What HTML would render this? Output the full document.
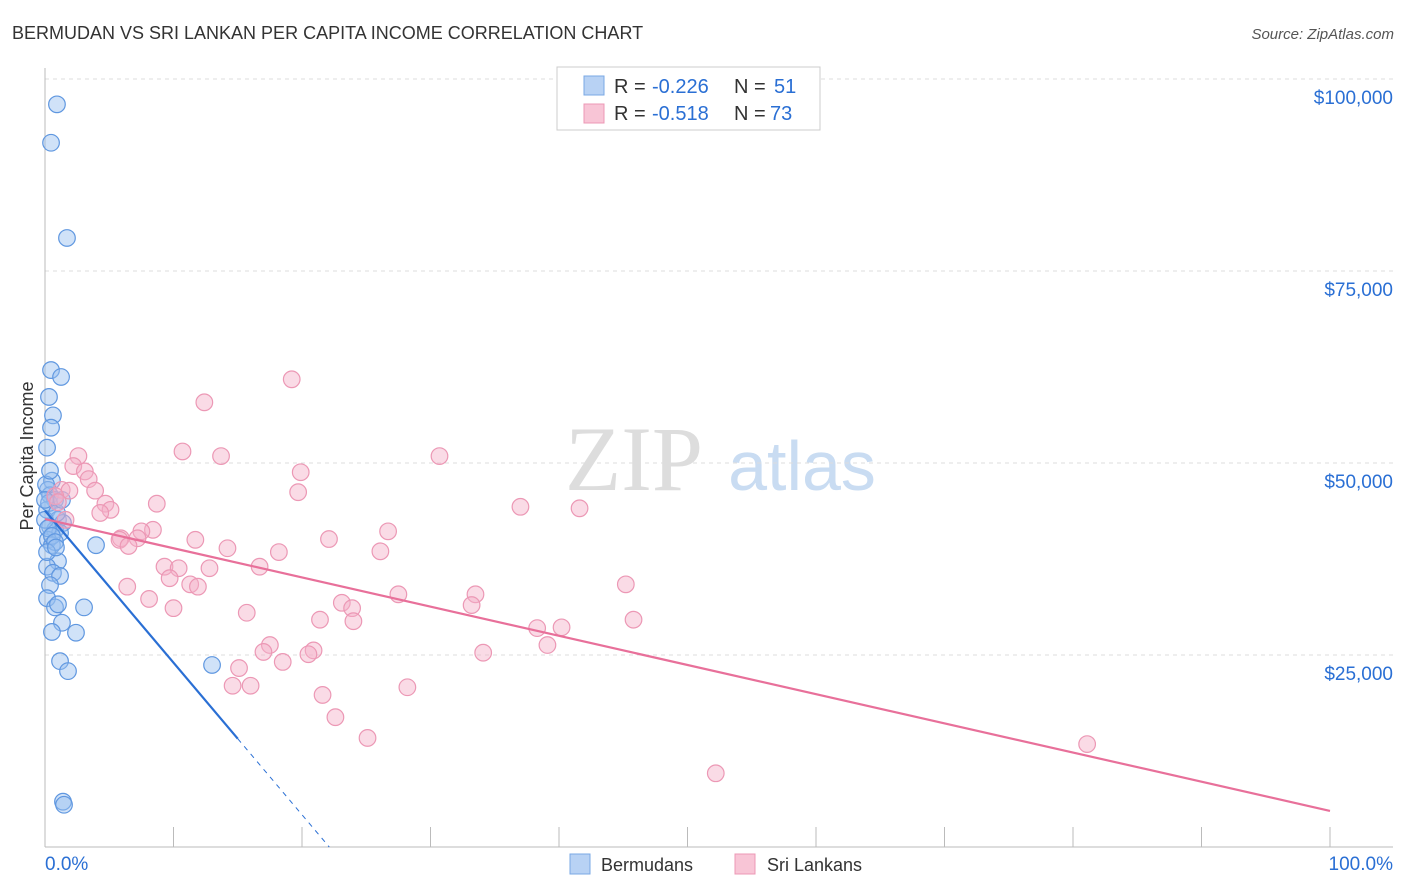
<!DOCTYPE html>
<html><head><meta charset="utf-8"><style>
body{margin:0;background:#fff;font-family:"Liberation Sans",sans-serif}
svg{display:block}
</style></head><body>
<svg id="c" width="1406" height="892" xmlns="http://www.w3.org/2000/svg">
<text x="12" y="39" font-size="18" fill="#333">BERMUDAN VS SRI LANKAN PER CAPITA INCOME CORRELATION CHART</text>
<text x="1394" y="39" font-size="15" fill="#555" text-anchor="end" font-style="italic">Source: ZipAtlas.com</text>
<text x="33" y="456" font-size="18" fill="#333" text-anchor="middle" transform="rotate(-90 33 456)">Per Capita Income</text>
<g><text x="634" y="490" font-size="92" fill="#ddd" text-anchor="middle" font-family="Liberation Serif,serif">ZIP</text><text x="802" y="490" font-size="70" fill="#c9dcf2" text-anchor="middle">atlas</text></g>
<g id="grid"></g><g id="marks"></g>
<g>
<rect x="557" y="67" width="263" height="63" fill="#fff" stroke="#ccc"/>
<rect x="584" y="76" width="20" height="19" fill="#b8d2f4" stroke="#7aa8e4"/>
<rect x="584" y="104" width="20" height="19" fill="#f8c5d6" stroke="#ec98b5"/>
<text x="614" y="93" font-size="20" fill="#333">R =</text><text x="652" y="93" font-size="20" fill="#2a6fd4">-0.226</text><text x="734" y="93" font-size="20" fill="#333">N =</text><text x="774" y="93" font-size="20" fill="#2a6fd4">51</text>
<text x="614" y="120" font-size="20" fill="#333">R =</text><text x="652" y="120" font-size="20" fill="#2a6fd4">-0.518</text><text x="734" y="120" font-size="20" fill="#333">N =</text><text x="770" y="120" font-size="20" fill="#2a6fd4">73</text>
</g>
<g>
<rect x="570" y="854" width="20" height="20" fill="#b8d2f4" stroke="#7aa8e4"/><text x="601" y="871" font-size="18" fill="#333">Bermudans</text>
<rect x="735" y="854" width="20" height="20" fill="#f8c5d6" stroke="#ec98b5"/><text x="767" y="871" font-size="18" fill="#333">Sri Lankans</text>
</g>
</svg>
<script>
const yTicks=[25000,50000,75000,100000];
const yTickLabels=["$25,000","$50,000","$75,000","$100,000"];
const xTickLabels=["0.0%","100.0%"];
const blueX=[0.93,0.47,1.71,0.47,1.25,0.31,0.62,0.47,0.16,0.54,0.23,0.39,0.78,0.16,1.01,1.40,0.39,0.78,1.17,0.23,0.54,3.97,1.01,0.16,0.62,1.17,0.39,0.16,0.78,3.04,1.32,0.54,2.41,1.17,1.79,13.0,1.40,1.48,0.0,0.23,0.54,0.78,0.16,0.31,0.93,0.08,0.39,0.0,0.85,1.32,1.01];
const blueY=[96.7,91.7,79.3,62.1,61.2,58.6,56.2,54.6,52.0,47.7,46.5,45.8,45.2,43.9,42.6,42.2,41.7,41.3,40.9,40.0,39.3,39.3,37.2,36.5,35.7,35.3,34.1,32.4,31.2,31.2,29.2,28.0,27.9,24.2,22.9,23.7,5.9,5.5,42.6,41.5,40.5,39.7,38.4,44.8,43.5,47.2,49.0,45.2,39.0,45.2,31.6];
const pinkX=[19.2,12.4,10.7,13.7,30.7,2.6,2.2,3.1,19.9,3.4,1.3,1.9,3.9,19.7,0.8,1.0,4.7,8.7,5.1,37.0,41.6,4.3,26.7,8.4,7.5,5.9,7.2,22.1,11.7,5.8,6.5,14.2,26.1,18.2,9.3,10.4,16.7,12.8,9.7,11.3,11.9,45.2,6.4,8.1,27.5,33.5,23.1,10.0,23.9,33.2,15.7,21.4,24.0,45.8,38.3,40.2,17.5,39.1,17.0,20.9,20.5,34.1,15.1,18.5,14.6,16.0,28.2,21.6,22.6,25.1,81.1,52.2,1.6];
const pinkY=[60.9,57.9,51.5,50.9,50.9,50.9,49.6,48.9,48.8,47.9,46.5,46.4,46.4,46.2,45.7,44.9,44.7,44.7,43.9,44.3,44.1,43.5,41.1,41.3,41.1,40.2,40.2,40.1,40.0,40.0,39.2,38.9,38.5,38.4,36.5,36.3,36.5,36.3,35.0,34.2,33.9,34.2,33.9,32.3,32.9,32.9,31.8,31.1,31.1,31.5,30.5,29.6,29.4,29.6,28.5,28.6,26.3,26.3,25.4,25.6,25.1,25.3,23.3,24.1,21.0,21.0,20.8,19.8,16.9,14.2,13.4,9.6,42.6];
const blueTrend=[43.8,-1.98];
const pinkTrend=[42.7,-0.38];
const X=v=>45+v*12.85, Y=k=>847-k*1000/25000*192;
const NS="http://www.w3.org/2000/svg";
function mk(t,a,p){const e=document.createElementNS(NS,t);for(const k in a)e.setAttribute(k,a[k]);p.appendChild(e);return e;}
const g=document.getElementById('grid'),m=document.getElementById('marks');
let gl=mk('line',{x1:45,x2:1393,y1:79,y2:79,stroke:'#ddd','stroke-dasharray':'4,4'},g);


yTicks.forEach((t,i)=>{const y=Y(t/1000);
 const l=mk('line',{x1:45,x2:1393,y1:y,y2:y,stroke:'#ddd','stroke-dasharray':'4,4'},g);
 
 
 const tx=mk('text',{x:1393,y:y+25,'font-size':19,fill:'#2a6fd4','text-anchor':'end'},g);tx.textContent=yTickLabels[i];
 
 });
let ax=mk('line',{x1:45,x2:45,y1:68,y2:847,stroke:'#bbb'},g);


let bx=mk('line',{x1:45,x2:1393,y1:847,y2:847,stroke:'#bbb'},g);


for(let i=0;i<=10;i++){const t=mk('line',{x1:X(i*10),x2:X(i*10),y1:827,y2:847,stroke:'#bbb'},g);
 
 }
[[0,'start',45],[1,'end',1393]].forEach(([i,a,x])=>{const t=mk('text',{x:x,y:870,'font-size':19,fill:'#2a6fd4','text-anchor':a},g);t.textContent=xTickLabels[i];
 
 });
blueX.forEach((v,i)=>{const c=mk('circle',{cx:X(v),cy:Y(blueY[i]),r:8.3,fill:'rgba(150,190,240,0.45)',stroke:'#5f97e0','stroke-width':1.2},m);
 
 });
pinkX.forEach((v,i)=>{const c=mk('circle',{cx:X(v),cy:Y(pinkY[i]),r:8.3,fill:'rgba(245,175,200,0.45)',stroke:'#ec98b5','stroke-width':1.2},m);
 
 });
const bt=x=>blueTrend[0]+blueTrend[1]*x, pt=x=>pinkTrend[0]+pinkTrend[1]*x;
const xz=-blueTrend[0]/blueTrend[1];
let l1=mk('line',{x1:X(0),y1:Y(bt(0)),x2:X(15),y2:Y(bt(15)),stroke:'#2a6fd4','stroke-width':2.2},m);


let l2=mk('line',{x1:X(15),y1:Y(bt(15)),x2:X(xz),y2:Y(0),stroke:'#2a6fd4','stroke-width':1,'stroke-dasharray':'5,5'},m);


let l3=mk('line',{x1:X(0),y1:Y(pt(0)),x2:X(100),y2:Y(pt(100)),stroke:'#e8709a','stroke-width':2.2},m);


</script>
</body></html>
